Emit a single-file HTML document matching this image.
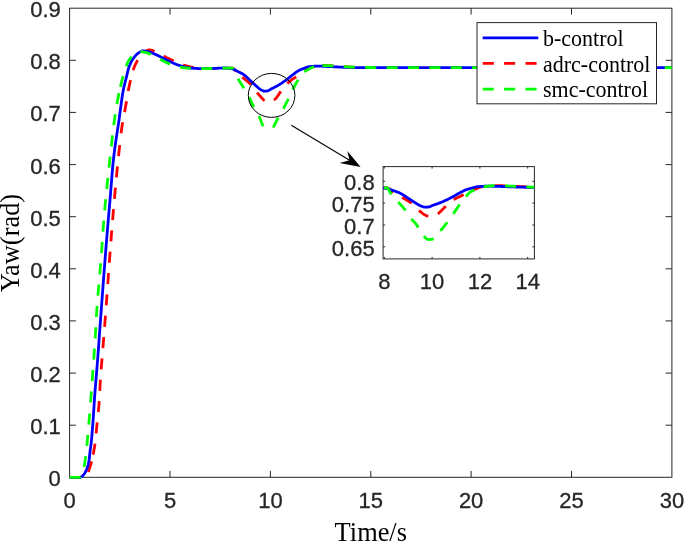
<!DOCTYPE html><html><head><meta charset="utf-8"><style>html,body{margin:0;padding:0;background:#fff;overflow:hidden}svg{display:block}</style></head><body>
<svg style="will-change:transform" width="685" height="543" viewBox="0 0 685 543">
<defs><clipPath id="cm"><rect x="67.6" y="6.2" width="606.3" height="473.1"/></clipPath>
<clipPath id="ci"><rect x="383.1" y="166.6" width="151.3" height="92.3"/></clipPath></defs>
<rect width="685" height="543" fill="#fff"/>
<g stroke="#262626" stroke-width="1" fill="none">
<rect x="69.6" y="8.2" width="602.3" height="469.1"/>
<path d="M170.0,477.3V470.9M170.0,8.2V14.6M270.4,477.3V470.9M270.4,8.2V14.6M370.8,477.3V470.9M370.8,8.2V14.6M471.1,477.3V470.9M471.1,8.2V14.6M571.5,477.3V470.9M571.5,8.2V14.6M69.6,425.2H75.9M671.9,425.2H665.6M69.6,373.1H75.9M671.9,373.1H665.6M69.6,320.9H75.9M671.9,320.9H665.6M69.6,268.8H75.9M671.9,268.8H665.6M69.6,216.7H75.9M671.9,216.7H665.6M69.6,164.6H75.9M671.9,164.6H665.6M69.6,112.4H75.9M671.9,112.4H665.6M69.6,60.3H75.9M671.9,60.3H665.6"/>
</g>
<g clip-path="url(#cm)" fill="none" stroke-width="2.8" stroke-linejoin="round">
<path d="M69.60,477.30 L69.60,477.30 L70.00,477.30 L70.40,477.30 L70.81,477.30 L71.21,477.30 L71.61,477.30 L72.01,477.30 L72.41,477.30 L72.81,477.30 L73.22,477.30 L73.62,477.30 L74.02,477.30 L74.42,477.30 L74.82,477.30 L75.23,477.30 L75.63,477.30 L76.03,477.30 L76.43,477.30 L76.83,477.30 L77.23,477.30 L77.64,477.30 L78.04,477.30 L78.44,477.30 L78.84,477.30 L79.24,477.30 L79.65,477.30 L80.05,477.30 L80.45,477.30 L80.70,477.30M88.28,472.03 L88.48,471.46 L88.89,470.29 L89.29,469.08 L89.69,467.84 L90.09,466.59 L90.49,465.28 L90.90,463.90 L91.30,462.44 L91.56,461.43M93.12,454.61 L93.31,453.67 L93.71,451.57 L94.11,449.33 L94.51,446.94 L94.91,444.23 L94.98,443.67M96.09,433.43 L96.12,433.12 L96.52,429.04 L96.92,425.09 L97.22,422.38M98.32,412.14 L98.53,409.96 L98.93,405.27 L99.21,401.08M99.79,390.80 L100.14,384.43 L100.44,379.71M101.18,369.44 L101.34,367.30 L101.74,362.20 L102.05,358.38M102.90,348.11 L102.95,347.47 L103.35,342.49 L103.75,337.39 L103.78,337.05M104.60,326.78 L104.96,322.21 L105.36,317.02 L105.46,315.71M106.23,305.44 L106.57,300.82 L106.97,295.28 L107.03,294.37M107.77,284.10 L107.77,284.10 L108.17,278.48 L108.56,273.02M109.31,262.75 L109.38,261.78 L109.78,256.32 L110.12,251.68M110.89,241.41 L110.99,240.09 L111.39,234.91 L111.76,230.34M112.61,220.08 L112.99,215.47 L113.40,210.78 L113.55,209.02M114.45,198.76 L114.60,197.07 L115.00,192.62 L115.41,188.23 L115.45,187.70M116.41,177.45 L116.61,175.38 L117.01,171.20 L117.41,167.09 L117.48,166.40M118.53,156.15 L118.62,155.29 L119.02,151.54 L119.42,147.88 L119.73,145.12M121.08,133.23 L121.43,130.39 L121.83,127.45 L122.24,124.80 L122.64,122.33 L122.65,122.25M124.54,112.12 L124.65,111.58 L125.05,109.49 L125.45,107.33 L125.85,105.07 L126.25,102.72 L126.51,101.20M128.23,91.04 L128.26,90.83 L128.66,88.68 L129.07,86.68 L129.47,84.85 L129.87,83.08 L130.27,81.35 L130.55,80.19M133.20,70.24 L133.49,69.33 L133.89,68.14 L134.29,67.05 L134.69,66.05 L135.09,65.14 L135.50,64.25 L135.90,63.40 L136.30,62.58 L136.70,61.79 L137.10,61.04 L137.50,60.31 L137.63,60.09M144.34,52.35 L144.34,52.35 L144.74,52.01 L145.14,51.69 L145.54,51.39 L145.94,51.12 L146.34,50.86 L146.75,50.63 L147.15,50.43 L147.55,50.26 L147.95,50.12 L148.35,50.01 L148.75,49.94 L149.16,49.90 L149.56,49.91 L149.96,49.93 L150.36,49.98 L150.76,50.05 L151.17,50.14 L151.57,50.25 L151.97,50.38 L152.37,50.51 L152.77,50.66 L153.17,50.82 L153.58,50.99 L153.98,51.16 L154.38,51.34 L154.50,51.39M163.71,56.00 L164.02,56.17 L164.43,56.40 L164.83,56.62 L165.23,56.84 L165.63,57.06 L166.03,57.27 L166.43,57.48 L166.84,57.68 L167.24,57.88 L167.64,58.07 L168.04,58.25 L168.44,58.44 L168.84,58.64 L169.25,58.83 L169.65,59.02 L170.05,59.21 L170.45,59.40 L170.85,59.60 L171.26,59.79 L171.66,59.98 L172.06,60.18 L172.46,60.37 L172.86,60.56 L173.26,60.75 L173.64,60.93M183.13,64.93 L183.31,64.99 L183.71,65.12 L184.11,65.25 L184.52,65.38 L184.92,65.50 L185.32,65.61 L185.72,65.72 L186.12,65.83 L186.52,65.93 L186.93,66.03 L187.33,66.13 L187.73,66.22 L188.13,66.32 L188.53,66.42 L188.93,66.52 L189.34,66.62 L189.74,66.72 L190.14,66.81 L190.54,66.91 L190.94,67.00 L191.35,67.10 L191.75,67.19 L192.15,67.28 L192.55,67.37 L192.95,67.45 L193.35,67.54 L193.76,67.62 L193.89,67.64M204.14,68.30 L204.20,68.30 L204.61,68.30 L205.01,68.30 L205.41,68.30 L205.81,68.30 L206.21,68.30 L206.61,68.30 L207.02,68.30 L207.42,68.30 L207.82,68.30 L208.22,68.30 L208.62,68.30 L209.03,68.30 L209.43,68.30 L209.83,68.30 L210.23,68.30 L210.63,68.30 L211.03,68.30 L211.44,68.30 L211.84,68.30 L212.24,68.30 L212.64,68.30 L213.04,68.30 L213.44,68.30 L213.85,68.30 L214.25,68.30 L214.65,68.30 L215.05,68.30 L215.24,68.30M225.54,68.19 L225.90,68.19 L226.30,68.18 L226.70,68.17 L227.11,68.16 L227.51,68.16 L227.91,68.15 L228.31,68.15 L228.71,68.14 L229.12,68.14 L229.52,68.14 L229.92,68.14 L230.32,68.14 L230.72,68.14 L231.12,68.14 L231.53,68.14 L231.93,68.14 L232.33,68.14 L232.73,68.18 L233.13,68.33 L233.53,68.59 L233.94,68.92 L234.34,69.33 L234.74,69.78 L235.14,70.28 L235.54,70.80 L235.55,70.80M242.37,77.28 L242.37,77.28 L242.78,77.61 L243.18,77.94 L243.58,78.26 L243.98,78.60 L244.38,78.93 L244.79,79.27 L245.19,79.61 L245.59,79.95 L245.99,80.28 L246.39,80.61 L246.79,80.93 L247.20,81.26 L247.60,81.58 L248.00,81.91 L248.40,82.23 L248.80,82.56 L249.21,82.89 L249.61,83.23 L250.01,83.58 L250.41,83.93 L250.81,84.30 L250.90,84.38M257.20,92.49 L257.24,92.55 L257.64,93.11 L258.04,93.65 L258.45,94.17 L258.85,94.65 L259.25,95.11 L259.65,95.56 L260.05,96.01 L260.46,96.47 L260.86,96.93 L261.26,97.39 L261.66,97.84 L262.06,98.28 L262.46,98.72 L262.87,99.13 L263.27,99.53 L263.67,99.91 L264.07,100.26 L264.47,100.58 L264.64,100.70M273.95,100.04 L274.12,99.91 L274.52,99.58 L274.92,99.26 L275.32,98.92 L275.72,98.52 L276.13,98.08 L276.53,97.59 L276.93,97.07 L277.33,96.52 L277.73,95.95 L278.13,95.36 L278.54,94.76 L278.94,94.16 L279.34,93.56 L279.74,92.98 L280.14,92.40 L280.55,91.85 L280.87,91.43M287.38,83.46 L287.38,83.46 L287.78,83.04 L288.18,82.65 L288.58,82.28 L288.98,81.92 L289.39,81.58 L289.79,81.25 L290.19,80.93 L290.59,80.62 L290.99,80.32 L291.39,80.03 L291.80,79.74 L292.20,79.46 L292.60,79.19 L293.00,78.92 L293.40,78.65 L293.81,78.38 L294.21,78.11 L294.61,77.84 L295.01,77.56 L295.41,77.29 L295.81,77.01 L296.19,76.74M304.68,70.91 L305.06,70.68 L305.46,70.44 L305.86,70.20 L306.26,69.96 L306.66,69.72 L307.06,69.47 L307.47,69.22 L307.87,68.97 L308.27,68.72 L308.67,68.47 L309.07,68.23 L309.48,68.01 L309.88,67.79 L310.28,67.58 L310.68,67.39 L311.08,67.22 L311.48,67.06 L311.89,66.93 L312.29,66.82 L312.69,66.73 L313.09,66.65 L313.49,66.57 L313.90,66.49 L314.30,66.41 L314.67,66.34M322.38,65.44 L322.73,65.43 L323.14,65.43 L323.54,65.43 L323.94,65.43 L324.34,65.44 L324.74,65.45 L325.15,65.45 L325.55,65.46 L325.95,65.48 L326.35,65.49 L326.75,65.50 L327.15,65.52 L327.56,65.54 L327.96,65.56 L328.36,65.58 L328.76,65.60 L329.16,65.62 L329.57,65.64 L329.97,65.67 L330.37,65.69 L330.77,65.71 L331.17,65.74 L331.57,65.76 L331.98,65.79 L332.38,65.82 L332.78,65.84 L333.18,65.87 L333.46,65.88M343.74,66.56 L344.03,66.59 L344.43,66.62 L344.83,66.65 L345.24,66.68 L345.64,66.71 L346.04,66.74 L346.44,66.77 L346.84,66.80 L347.24,66.83 L347.65,66.86 L348.05,66.89 L348.45,66.92 L348.85,66.94 L349.25,66.97 L349.66,67.00 L350.06,67.02 L350.46,67.05 L350.86,67.07 L351.26,67.10 L351.66,67.12 L352.07,67.14 L352.47,67.16 L352.87,67.18 L353.27,67.20 L353.67,67.22 L354.08,67.24 L354.48,67.25 L354.82,67.26M365.12,67.44 L365.33,67.44 L365.73,67.44 L366.13,67.45 L366.53,67.45 L366.93,67.46 L367.33,67.46 L367.74,67.47 L368.14,67.47 L368.54,67.48 L368.94,67.48 L369.34,67.49 L369.75,67.49 L370.15,67.50 L370.55,67.50 L370.95,67.50 L371.35,67.51 L371.75,67.51 L372.16,67.52 L372.56,67.52 L372.96,67.52 L373.36,67.53 L373.76,67.53 L374.17,67.54 L374.57,67.54 L374.97,67.54 L375.37,67.55 L375.77,67.55 L376.17,67.55 L376.22,67.55M386.52,67.61 L386.62,67.61 L387.02,67.61 L387.42,67.61 L387.83,67.61 L388.23,67.62 L388.63,67.62 L389.03,67.62 L389.43,67.62 L389.84,67.62 L390.24,67.62 L390.64,67.62 L391.04,67.62 L391.44,67.62 L391.84,67.62 L392.25,67.62 L392.65,67.62 L393.05,67.62 L393.45,67.62 L393.85,67.62 L394.26,67.62 L394.66,67.62 L395.06,67.62 L395.46,67.62 L395.86,67.62 L396.26,67.62 L396.67,67.62 L397.07,67.63 L397.47,67.63 L397.62,67.63M407.92,67.63 L407.92,67.63 L408.32,67.63 L408.72,67.64 L409.12,67.64 L409.52,67.64 L409.93,67.64 L410.33,67.64 L410.73,67.64 L411.13,67.64 L411.53,67.64 L411.93,67.64 L412.34,67.64 L412.74,67.64 L413.14,67.64 L413.54,67.64 L413.94,67.64 L414.35,67.64 L414.75,67.64 L415.15,67.64 L415.55,67.64 L415.95,67.64 L416.35,67.64 L416.76,67.64 L417.16,67.64 L417.56,67.64 L417.96,67.64 L418.36,67.64 L418.77,67.64 L419.02,67.64M429.32,67.65 L429.61,67.65 L430.02,67.65 L430.42,67.65 L430.82,67.65 L431.22,67.65 L431.62,67.65 L432.02,67.65 L432.43,67.65 L432.83,67.65 L433.23,67.65 L433.63,67.65 L434.03,67.66 L434.44,67.66 L434.84,67.66 L435.24,67.66 L435.64,67.66 L436.04,67.66 L436.44,67.66 L436.85,67.66 L437.25,67.66 L437.65,67.66 L438.05,67.66 L438.45,67.66 L438.86,67.66 L439.26,67.66 L439.66,67.66 L440.06,67.66 L440.42,67.66M450.72,67.67 L450.91,67.67 L451.31,67.67 L451.71,67.67 L452.11,67.67 L452.52,67.67 L452.92,67.67 L453.32,67.67 L453.72,67.67 L454.12,67.67 L454.53,67.67 L454.93,67.67 L455.33,67.67 L455.73,67.67 L456.13,67.67 L456.53,67.67 L456.94,67.67 L457.34,67.67 L457.74,67.67 L458.14,67.67 L458.54,67.67 L458.95,67.67 L459.35,67.67 L459.75,67.67 L460.15,67.67 L460.55,67.67 L460.95,67.67 L461.36,67.67 L461.76,67.67 L461.82,67.67M472.12,67.68 L472.20,67.68 L472.61,67.68 L473.01,67.68 L473.41,67.68 L473.81,67.68 L474.21,67.68 L474.62,67.68 L475.02,67.68 L475.42,67.68 L475.82,67.68 L476.22,67.68 L476.62,67.68 L477.03,67.68 L477.43,67.68 L477.83,67.68 L478.23,67.68 L478.63,67.68 L479.04,67.68 L479.44,67.68 L479.84,67.68 L480.24,67.68 L480.64,67.68 L481.04,67.68 L481.45,67.68 L481.85,67.68 L482.25,67.68 L482.65,67.68 L483.05,67.68 L483.22,67.68M493.52,67.69 L493.90,67.69 L494.30,67.69 L494.71,67.69 L495.11,67.69 L495.51,67.69 L495.91,67.69 L496.31,67.69 L496.71,67.69 L497.12,67.69 L497.52,67.69 L497.92,67.69 L498.32,67.69 L498.72,67.69 L499.13,67.69 L499.53,67.69 L499.93,67.69 L500.33,67.69 L500.73,67.69 L501.13,67.69 L501.54,67.69 L501.94,67.69 L502.34,67.69 L502.74,67.69 L503.14,67.69 L503.55,67.69 L503.95,67.69 L504.35,67.69 L504.62,67.69M514.92,67.70 L515.20,67.70 L515.60,67.70 L516.00,67.70 L516.40,67.70 L516.80,67.70 L517.21,67.70 L517.61,67.70 L518.01,67.70 L518.41,67.70 L518.81,67.70 L519.22,67.70 L519.62,67.70 L520.02,67.70 L520.42,67.70 L520.82,67.70 L521.22,67.70 L521.63,67.70 L522.03,67.70 L522.43,67.70 L522.83,67.70 L523.23,67.70 L523.64,67.70 L524.04,67.70 L524.44,67.70 L524.84,67.70 L525.24,67.70 L525.64,67.70 L526.02,67.70M536.32,67.71 L536.49,67.71 L536.89,67.71 L537.30,67.71 L537.70,67.71 L538.10,67.71 L538.50,67.71 L538.90,67.71 L539.31,67.71 L539.71,67.71 L540.11,67.71 L540.51,67.71 L540.91,67.71 L541.31,67.71 L541.72,67.71 L542.12,67.71 L542.52,67.71 L542.92,67.71 L543.32,67.71 L543.73,67.71 L544.13,67.71 L544.53,67.71 L544.93,67.71 L545.33,67.71 L545.73,67.71 L546.14,67.71 L546.54,67.71 L546.94,67.71 L547.34,67.71 L547.42,67.71M557.72,67.71 L557.79,67.71 L558.19,67.71 L558.59,67.71 L558.99,67.71 L559.40,67.71 L559.80,67.71 L560.20,67.71 L560.60,67.71 L561.00,67.71 L561.40,67.71 L561.81,67.71 L562.21,67.71 L562.61,67.71 L563.01,67.71 L563.41,67.71 L563.82,67.71 L564.22,67.71 L564.62,67.71 L565.02,67.71 L565.42,67.71 L565.82,67.71 L566.23,67.71 L566.63,67.71 L567.03,67.71 L567.43,67.71 L567.83,67.71 L568.24,67.71 L568.64,67.71 L568.82,67.71M579.12,67.72 L579.49,67.72 L579.89,67.72 L580.29,67.72 L580.69,67.72 L581.09,67.72 L581.49,67.72 L581.90,67.72 L582.30,67.72 L582.70,67.72 L583.10,67.72 L583.50,67.72 L583.91,67.72 L584.31,67.72 L584.71,67.72 L585.11,67.72 L585.51,67.72 L585.91,67.72 L586.32,67.72 L586.72,67.72 L587.12,67.72 L587.52,67.72 L587.92,67.72 L588.33,67.72 L588.73,67.72 L589.13,67.72 L589.53,67.72 L589.93,67.72 L590.22,67.72M600.52,67.72 L600.78,67.72 L601.18,67.72 L601.58,67.72 L601.99,67.72 L602.39,67.72 L602.79,67.72 L603.19,67.72 L603.59,67.72 L604.00,67.72 L604.40,67.72 L604.80,67.72 L605.20,67.72 L605.60,67.72 L606.00,67.72 L606.41,67.72 L606.81,67.72 L607.21,67.72 L607.61,67.72 L608.01,67.72 L608.42,67.72 L608.82,67.72 L609.22,67.72 L609.62,67.72 L610.02,67.72 L610.42,67.72 L610.83,67.72 L611.23,67.72 L611.62,67.72M621.92,67.72 L622.08,67.72 L622.48,67.72 L622.88,67.72 L623.28,67.72 L623.68,67.72 L624.09,67.72 L624.49,67.72 L624.89,67.72 L625.29,67.72 L625.69,67.72 L626.09,67.72 L626.50,67.72 L626.90,67.72 L627.30,67.72 L627.70,67.72 L628.10,67.72 L628.51,67.72 L628.91,67.72 L629.31,67.72 L629.71,67.72 L630.11,67.72 L630.51,67.72 L630.92,67.72 L631.32,67.72 L631.72,67.72 L632.12,67.72 L632.52,67.72 L632.93,67.72 L633.02,67.72M643.32,67.72 L643.37,67.72 L643.77,67.72 L644.18,67.72 L644.58,67.72 L644.98,67.72 L645.38,67.72 L645.78,67.72 L646.18,67.72 L646.59,67.72 L646.99,67.72 L647.39,67.72 L647.79,67.72 L648.19,67.72 L648.60,67.72 L649.00,67.72 L649.40,67.72 L649.80,67.72 L650.20,67.72 L650.60,67.72 L651.01,67.72 L651.41,67.72 L651.81,67.72 L652.21,67.72 L652.61,67.72 L653.02,67.72 L653.42,67.72 L653.82,67.72 L654.22,67.72 L654.42,67.72M664.72,67.72 L665.07,67.72 L665.47,67.72 L665.87,67.72 L666.27,67.72 L666.68,67.72 L667.08,67.72 L667.48,67.72 L667.88,67.72 L668.28,67.72 L668.69,67.72 L669.09,67.72 L669.49,67.72 L669.89,67.72 L670.29,67.72 L670.69,67.72 L671.10,67.72 L671.50,67.72 L671.90,67.72" stroke="#ff0000"/>
<path d="M69.60,477.30 L70.00,477.30 L70.40,477.30 L70.81,477.30 L71.21,477.30 L71.61,477.30 L72.01,477.30 L72.41,477.30 L72.81,477.30 L73.22,477.30 L73.62,477.30 L74.02,477.30 L74.42,477.30 L74.82,477.30 L75.23,477.30 L75.63,477.30 L76.03,477.30 L76.43,477.30 L76.83,477.30 L77.23,477.30 L77.64,477.30 L78.04,477.30 L78.44,477.30 L78.84,477.30 L79.24,477.30 L79.65,477.30 L80.05,477.28 L80.45,477.17 L80.85,477.00 L81.25,476.79 L81.65,476.57 L82.06,476.29 L82.46,475.93 L82.86,475.52 L83.26,475.07 L83.66,474.61 L84.06,474.12 L84.47,473.57 L84.87,472.96 L85.27,472.27 L85.67,471.51 L86.07,470.65 L86.48,469.70 L86.88,468.65 L87.28,467.49 L87.68,466.20 L88.08,464.75 L88.48,463.01 L88.89,460.93 L89.29,458.48 L89.69,454.96 L90.09,451.07 L90.49,448.13 L90.90,445.34 L91.30,441.88 L91.70,437.67 L92.10,433.01 L92.50,428.15 L92.90,423.02 L93.31,417.51 L93.71,411.43 L94.11,404.60 L94.51,398.40 L94.91,392.89 L95.32,387.73 L95.72,382.81 L96.12,378.04 L96.52,373.30 L96.92,368.50 L97.32,363.55 L97.73,358.34 L98.13,352.93 L98.53,347.40 L98.93,341.79 L99.33,336.15 L99.74,330.52 L100.14,324.95 L100.54,319.48 L100.94,314.06 L101.34,308.64 L101.74,303.24 L102.15,297.84 L102.55,292.46 L102.95,287.09 L103.35,281.76 L103.75,276.45 L104.15,271.17 L104.56,265.93 L104.96,260.73 L105.36,255.57 L105.76,250.47 L106.16,245.42 L106.57,240.42 L106.97,235.51 L107.37,230.68 L107.77,225.93 L108.17,221.23 L108.57,216.57 L108.98,211.92 L109.38,207.26 L109.78,202.58 L110.18,197.83 L110.58,192.91 L110.99,187.86 L111.39,182.78 L111.79,177.75 L112.19,172.87 L112.59,168.23 L112.99,163.92 L113.40,160.03 L113.80,156.49 L114.20,153.15 L114.60,149.97 L115.00,146.94 L115.41,144.04 L115.81,141.25 L116.21,138.53 L116.61,135.87 L117.01,133.25 L117.41,130.63 L117.82,128.01 L118.22,125.35 L118.62,122.64 L119.02,119.85 L119.42,116.95 L119.83,113.96 L120.23,110.93 L120.63,107.88 L121.03,104.85 L121.43,101.88 L121.83,99.02 L122.24,96.29 L122.64,93.73 L123.04,91.39 L123.44,89.29 L123.84,87.38 L124.24,85.62 L124.65,83.97 L125.05,82.40 L125.45,80.87 L125.85,79.34 L126.25,77.78 L126.66,76.16 L127.06,74.43 L127.46,72.67 L127.86,70.95 L128.26,69.37 L128.66,68.00 L129.07,66.86 L129.47,65.81 L129.87,64.83 L130.27,63.91 L130.67,63.04 L131.08,62.22 L131.48,61.46 L131.88,60.73 L132.28,60.04 L132.68,59.39 L133.08,58.77 L133.49,58.18 L133.89,57.61 L134.29,57.06 L134.69,56.55 L135.09,56.06 L135.50,55.60 L135.90,55.17 L136.30,54.78 L136.70,54.41 L137.10,54.06 L137.50,53.73 L137.91,53.42 L138.31,53.11 L138.71,52.83 L139.11,52.56 L139.51,52.30 L139.92,52.07 L140.32,51.84 L140.72,51.64 L141.12,51.44 L141.52,51.23 L141.92,51.05 L142.33,50.93 L142.73,50.90 L143.13,50.91 L143.53,50.93 L143.93,50.96 L144.34,51.00 L144.74,51.05 L145.14,51.10 L145.54,51.16 L145.94,51.22 L146.34,51.29 L146.75,51.37 L147.15,51.44 L147.55,51.51 L147.95,51.59 L148.35,51.67 L148.75,51.77 L149.16,51.87 L149.56,51.99 L149.96,52.12 L150.36,52.26 L150.76,52.41 L151.17,52.56 L151.57,52.72 L151.97,52.89 L152.37,53.06 L152.77,53.23 L153.17,53.41 L153.58,53.59 L153.98,53.76 L154.38,53.94 L154.78,54.11 L155.18,54.28 L155.59,54.45 L155.99,54.63 L156.39,54.81 L156.79,55.00 L157.19,55.19 L157.59,55.38 L158.00,55.58 L158.40,55.78 L158.80,55.98 L159.20,56.18 L159.60,56.39 L160.01,56.60 L160.41,56.80 L160.81,57.01 L161.21,57.22 L161.61,57.43 L162.01,57.65 L162.42,57.86 L162.82,58.07 L163.22,58.27 L163.62,58.48 L164.02,58.69 L164.43,58.89 L164.83,59.09 L165.23,59.29 L165.63,59.49 L166.03,59.69 L166.43,59.88 L166.84,60.06 L167.24,60.25 L167.64,60.44 L168.04,60.63 L168.44,60.82 L168.84,61.01 L169.25,61.21 L169.65,61.40 L170.05,61.59 L170.45,61.78 L170.85,61.97 L171.26,62.16 L171.66,62.35 L172.06,62.54 L172.46,62.72 L172.86,62.91 L173.26,63.09 L173.67,63.27 L174.07,63.44 L174.47,63.62 L174.87,63.79 L175.27,63.95 L175.68,64.12 L176.08,64.27 L176.48,64.43 L176.88,64.58 L177.28,64.72 L177.68,64.86 L178.09,65.00 L178.49,65.13 L178.89,65.26 L179.29,65.38 L179.69,65.51 L180.10,65.64 L180.50,65.77 L180.90,65.90 L181.30,66.03 L181.70,66.15 L182.10,66.27 L182.51,66.40 L182.91,66.52 L183.31,66.64 L183.71,66.75 L184.11,66.86 L184.52,66.97 L184.92,67.08 L185.32,67.18 L185.72,67.28 L186.12,67.37 L186.52,67.46 L186.93,67.55 L187.33,67.62 L187.73,67.70 L188.13,67.77 L188.53,67.83 L188.93,67.88 L189.34,67.93 L189.74,67.98 L190.14,68.01 L190.54,68.05 L190.94,68.08 L191.35,68.11 L191.75,68.14 L192.15,68.18 L192.55,68.21 L192.95,68.24 L193.35,68.27 L193.76,68.29 L194.16,68.32 L194.56,68.35 L194.96,68.37 L195.36,68.40 L195.77,68.42 L196.17,68.44 L196.57,68.46 L196.97,68.48 L197.37,68.50 L197.77,68.52 L198.18,68.53 L198.58,68.55 L198.98,68.56 L199.38,68.57 L199.78,68.58 L200.19,68.59 L200.59,68.59 L200.99,68.60 L201.39,68.60 L201.79,68.60 L202.19,68.60 L202.60,68.60 L203.00,68.60 L203.40,68.59 L203.80,68.59 L204.20,68.59 L204.61,68.58 L205.01,68.58 L205.41,68.57 L205.81,68.56 L206.21,68.56 L206.61,68.55 L207.02,68.54 L207.42,68.54 L207.82,68.53 L208.22,68.52 L208.62,68.51 L209.03,68.50 L209.43,68.49 L209.83,68.48 L210.23,68.47 L210.63,68.47 L211.03,68.46 L211.44,68.45 L211.84,68.44 L212.24,68.43 L212.64,68.42 L213.04,68.41 L213.44,68.40 L213.85,68.39 L214.25,68.38 L214.65,68.36 L215.05,68.35 L215.45,68.34 L215.86,68.32 L216.26,68.30 L216.66,68.28 L217.06,68.27 L217.46,68.25 L217.86,68.23 L218.27,68.21 L218.67,68.19 L219.07,68.17 L219.47,68.15 L219.87,68.14 L220.28,68.12 L220.68,68.10 L221.08,68.09 L221.48,68.07 L221.88,68.06 L222.28,68.04 L222.69,68.03 L223.09,68.02 L223.49,68.01 L223.89,68.01 L224.29,68.00 L224.70,68.00 L225.10,68.00 L225.50,68.00 L225.90,68.01 L226.30,68.02 L226.70,68.04 L227.11,68.06 L227.51,68.08 L227.91,68.10 L228.31,68.13 L228.71,68.16 L229.12,68.19 L229.52,68.22 L229.92,68.28 L230.32,68.34 L230.72,68.43 L231.12,68.52 L231.53,68.62 L231.93,68.73 L232.33,68.84 L232.73,68.96 L233.13,69.10 L233.53,69.26 L233.94,69.44 L234.34,69.63 L234.74,69.83 L235.14,70.04 L235.54,70.26 L235.95,70.47 L236.35,70.70 L236.75,70.91 L237.15,71.13 L237.55,71.34 L237.95,71.54 L238.36,71.74 L238.76,71.93 L239.16,72.13 L239.56,72.33 L239.96,72.52 L240.37,72.73 L240.77,72.93 L241.17,73.14 L241.57,73.35 L241.97,73.57 L242.37,73.80 L242.78,74.04 L243.18,74.29 L243.58,74.55 L243.98,74.82 L244.38,75.11 L244.79,75.42 L245.19,75.75 L245.59,76.10 L245.99,76.45 L246.39,76.82 L246.79,77.20 L247.20,77.58 L247.60,77.97 L248.00,78.36 L248.40,78.75 L248.80,79.13 L249.21,79.51 L249.61,79.89 L250.01,80.26 L250.41,80.63 L250.81,81.00 L251.21,81.38 L251.62,81.76 L252.02,82.14 L252.42,82.52 L252.82,82.90 L253.22,83.28 L253.62,83.66 L254.03,84.03 L254.43,84.40 L254.83,84.77 L255.23,85.13 L255.63,85.48 L256.04,85.83 L256.44,86.18 L256.84,86.53 L257.24,86.89 L257.64,87.24 L258.04,87.59 L258.45,87.94 L258.85,88.28 L259.25,88.60 L259.65,88.91 L260.05,89.20 L260.46,89.47 L260.86,89.72 L261.26,89.94 L261.66,90.17 L262.06,90.40 L262.46,90.62 L262.87,90.81 L263.27,90.97 L263.67,91.08 L264.07,91.13 L264.47,91.12 L264.88,91.12 L265.28,91.10 L265.68,91.08 L266.08,91.06 L266.48,91.03 L266.88,91.00 L267.29,90.97 L267.69,90.89 L268.09,90.75 L268.49,90.57 L268.89,90.35 L269.30,90.10 L269.70,89.83 L270.10,89.57 L270.50,89.31 L270.90,89.08 L271.30,88.87 L271.71,88.67 L272.11,88.47 L272.51,88.28 L272.91,88.08 L273.31,87.89 L273.72,87.69 L274.12,87.50 L274.52,87.31 L274.92,87.11 L275.32,86.91 L275.72,86.70 L276.13,86.49 L276.53,86.28 L276.93,86.06 L277.33,85.83 L277.73,85.60 L278.13,85.36 L278.54,85.12 L278.94,84.88 L279.34,84.63 L279.74,84.38 L280.14,84.12 L280.55,83.86 L280.95,83.60 L281.35,83.33 L281.75,83.06 L282.15,82.79 L282.55,82.52 L282.96,82.24 L283.36,81.96 L283.76,81.68 L284.16,81.40 L284.56,81.12 L284.97,80.84 L285.37,80.55 L285.77,80.26 L286.17,79.97 L286.57,79.67 L286.97,79.37 L287.38,79.06 L287.78,78.75 L288.18,78.43 L288.58,78.11 L288.98,77.79 L289.39,77.46 L289.79,77.14 L290.19,76.81 L290.59,76.48 L290.99,76.16 L291.39,75.83 L291.80,75.51 L292.20,75.19 L292.60,74.88 L293.00,74.57 L293.40,74.26 L293.81,73.96 L294.21,73.67 L294.61,73.37 L295.01,73.07 L295.41,72.77 L295.81,72.47 L296.22,72.18 L296.62,71.89 L297.02,71.61 L297.42,71.34 L297.82,71.08 L298.22,70.84 L298.63,70.62 L299.03,70.41 L299.43,70.20 L299.83,70.01 L300.23,69.83 L300.64,69.65 L301.04,69.48 L301.44,69.31 L301.84,69.15 L302.24,68.99 L302.64,68.83 L303.05,68.68 L303.45,68.52 L303.85,68.37 L304.25,68.21 L304.65,68.05 L305.06,67.89 L305.46,67.72 L305.86,67.57 L306.26,67.42 L306.66,67.27 L307.06,67.14 L307.47,67.02 L307.87,66.92 L308.27,66.83 L308.67,66.76 L309.07,66.70 L309.48,66.64 L309.88,66.58 L310.28,66.53 L310.68,66.48 L311.08,66.43 L311.48,66.39 L311.89,66.36 L312.29,66.32 L312.69,66.30 L313.09,66.28 L313.49,66.26 L313.90,66.25 L314.30,66.24 L314.70,66.23 L315.10,66.22 L315.50,66.21 L315.90,66.20 L316.31,66.19 L316.71,66.18 L317.11,66.18 L317.51,66.17 L317.91,66.17 L318.31,66.16 L318.72,66.16 L319.12,66.16 L319.52,66.16 L319.92,66.16 L320.32,66.17 L320.73,66.18 L321.13,66.19 L321.53,66.20 L321.93,66.22 L322.33,66.23 L322.73,66.25 L323.14,66.27 L323.54,66.28 L323.94,66.30 L324.34,66.32 L324.74,66.34 L325.15,66.36 L325.55,66.39 L325.95,66.41 L326.35,66.42 L326.75,66.44 L327.15,66.46 L327.56,66.48 L327.96,66.50 L328.36,66.51 L328.76,66.53 L329.16,66.55 L329.57,66.57 L329.97,66.59 L330.37,66.61 L330.77,66.63 L331.17,66.65 L331.57,66.68 L331.98,66.70 L332.38,66.72 L332.78,66.74 L333.18,66.76 L333.58,66.78 L333.99,66.81 L334.39,66.83 L334.79,66.85 L335.19,66.87 L335.59,66.89 L335.99,66.92 L336.40,66.94 L336.80,66.96 L337.20,66.98 L337.60,67.00 L338.00,67.02 L338.41,67.04 L338.81,67.06 L339.21,67.08 L339.61,67.09 L340.01,67.11 L340.41,67.13 L340.82,67.14 L341.22,67.16 L341.62,67.17 L342.02,67.19 L342.42,67.20 L342.82,67.21 L343.23,67.23 L343.63,67.24 L344.03,67.25 L344.43,67.26 L344.83,67.28 L345.24,67.29 L345.64,67.30 L346.04,67.31 L346.44,67.33 L346.84,67.34 L347.24,67.35 L347.65,67.36 L348.05,67.37 L348.45,67.39 L348.85,67.40 L349.25,67.41 L349.66,67.42 L350.06,67.43 L350.46,67.44 L350.86,67.45 L351.26,67.46 L351.66,67.47 L352.07,67.48 L352.47,67.49 L352.87,67.50 L353.27,67.51 L353.67,67.52 L354.08,67.53 L354.48,67.53 L354.88,67.54 L355.28,67.55 L355.68,67.56 L356.08,67.56 L356.49,67.57 L356.89,67.58 L357.29,67.58 L357.69,67.59 L358.09,67.59 L358.50,67.60 L358.90,67.60 L359.30,67.61 L359.70,67.61 L360.10,67.62 L360.50,67.62 L360.91,67.62 L361.31,67.62 L361.71,67.63 L362.11,67.63 L362.51,67.63 L362.91,67.63 L363.32,67.64 L363.72,67.64 L364.12,67.64 L364.52,67.64 L364.92,67.65 L365.33,67.65 L365.73,67.65 L366.13,67.65 L366.53,67.65 L366.93,67.66 L367.33,67.66 L367.74,67.66 L368.14,67.66 L368.54,67.66 L368.94,67.67 L369.34,67.67 L369.75,67.67 L370.15,67.67 L370.55,67.67 L370.95,67.68 L371.35,67.68 L371.75,67.68 L372.16,67.68 L372.56,67.68 L372.96,67.68 L373.36,67.69 L373.76,67.69 L374.17,67.69 L374.57,67.69 L374.97,67.69 L375.37,67.69 L375.77,67.70 L376.17,67.70 L376.58,67.70 L376.98,67.70 L377.38,67.70 L377.78,67.70 L378.18,67.70 L378.59,67.70 L378.99,67.71 L379.39,67.71 L379.79,67.71 L380.19,67.71 L380.59,67.71 L381.00,67.71 L381.40,67.71 L381.80,67.71 L382.20,67.71 L382.60,67.72 L383.00,67.72 L383.41,67.72 L383.81,67.72 L384.21,67.72 L384.61,67.72 L385.01,67.72 L385.42,67.72 L385.82,67.72 L386.22,67.72 L386.62,67.72 L387.02,67.72 L387.42,67.72 L387.83,67.72 L388.23,67.72 L388.63,67.72 L389.03,67.72 L389.43,67.72 L389.84,67.72 L390.24,67.72 L390.64,67.72 L391.04,67.72 L391.44,67.72 L391.84,67.72 L392.25,67.72 L392.65,67.72 L393.05,67.72 L393.45,67.72 L393.85,67.72 L394.26,67.72 L394.66,67.72 L395.06,67.72 L395.46,67.72 L395.86,67.72 L396.26,67.72 L396.67,67.72 L397.07,67.72 L397.47,67.72 L397.87,67.72 L398.27,67.72 L398.68,67.72 L399.08,67.72 L399.48,67.72 L399.88,67.72 L400.28,67.72 L400.68,67.72 L401.09,67.72 L401.49,67.72 L401.89,67.72 L402.29,67.72 L402.69,67.72 L403.09,67.72 L403.50,67.72 L403.90,67.72 L404.30,67.72 L404.70,67.72 L405.10,67.72 L405.51,67.72 L405.91,67.72 L406.31,67.72 L406.71,67.72 L407.11,67.72 L407.51,67.72 L407.92,67.72 L408.32,67.72 L408.72,67.72 L409.12,67.72 L409.52,67.72 L409.93,67.72 L410.33,67.72 L410.73,67.72 L411.13,67.72 L411.53,67.72 L411.93,67.72 L412.34,67.72 L412.74,67.72 L413.14,67.72 L413.54,67.72 L413.94,67.72 L414.35,67.72 L414.75,67.72 L415.15,67.72 L415.55,67.72 L415.95,67.72 L416.35,67.72 L416.76,67.72 L417.16,67.72 L417.56,67.72 L417.96,67.72 L418.36,67.72 L418.77,67.72 L419.17,67.72 L419.57,67.72 L419.97,67.72 L420.37,67.72 L420.77,67.72 L421.18,67.72 L421.58,67.72 L421.98,67.72 L422.38,67.72 L422.78,67.72 L423.19,67.72 L423.59,67.72 L423.99,67.72 L424.39,67.72 L424.79,67.72 L425.19,67.72 L425.60,67.72 L426.00,67.72 L426.40,67.72 L426.80,67.72 L427.20,67.72 L427.60,67.72 L428.01,67.72 L428.41,67.72 L428.81,67.72 L429.21,67.72 L429.61,67.72 L430.02,67.72 L430.42,67.72 L430.82,67.72 L431.22,67.72 L431.62,67.72 L432.02,67.72 L432.43,67.72 L432.83,67.72 L433.23,67.72 L433.63,67.72 L434.03,67.72 L434.44,67.72 L434.84,67.72 L435.24,67.72 L435.64,67.72 L436.04,67.72 L436.44,67.72 L436.85,67.72 L437.25,67.72 L437.65,67.72 L438.05,67.72 L438.45,67.72 L438.86,67.72 L439.26,67.72 L439.66,67.72 L440.06,67.72 L440.46,67.72 L440.86,67.72 L441.27,67.72 L441.67,67.72 L442.07,67.72 L442.47,67.72 L442.87,67.72 L443.28,67.72 L443.68,67.72 L444.08,67.72 L444.48,67.72 L444.88,67.72 L445.28,67.72 L445.69,67.72 L446.09,67.72 L446.49,67.72 L446.89,67.72 L447.29,67.72 L447.69,67.72 L448.10,67.72 L448.50,67.72 L448.90,67.72 L449.30,67.72 L449.70,67.72 L450.11,67.72 L450.51,67.72 L450.91,67.72 L451.31,67.72 L451.71,67.72 L452.11,67.72 L452.52,67.72 L452.92,67.72 L453.32,67.72 L453.72,67.72 L454.12,67.72 L454.53,67.72 L454.93,67.72 L455.33,67.72 L455.73,67.72 L456.13,67.72 L456.53,67.72 L456.94,67.72 L457.34,67.72 L457.74,67.72 L458.14,67.72 L458.54,67.72 L458.95,67.72 L459.35,67.72 L459.75,67.72 L460.15,67.72 L460.55,67.72 L460.95,67.72 L461.36,67.72 L461.76,67.72 L462.16,67.72 L462.56,67.72 L462.96,67.72 L463.37,67.72 L463.77,67.72 L464.17,67.72 L464.57,67.72 L464.97,67.72 L465.37,67.72 L465.78,67.72 L466.18,67.72 L466.58,67.72 L466.98,67.72 L467.38,67.72 L467.78,67.72 L468.19,67.72 L468.59,67.72 L468.99,67.72 L469.39,67.72 L469.79,67.72 L470.20,67.72 L470.60,67.72 L471.00,67.72 L471.40,67.72 L471.80,67.72 L472.20,67.72 L472.61,67.72 L473.01,67.72 L473.41,67.72 L473.81,67.72 L474.21,67.72 L474.62,67.72 L475.02,67.72 L475.42,67.72 L475.82,67.72 L476.22,67.72 L476.62,67.72 L477.03,67.72 L477.43,67.72 L477.83,67.72 L478.23,67.72 L478.63,67.72 L479.04,67.72 L479.44,67.72 L479.84,67.72 L480.24,67.72 L480.64,67.72 L481.04,67.72 L481.45,67.72 L481.85,67.72 L482.25,67.72 L482.65,67.72 L483.05,67.72 L483.46,67.72 L483.86,67.72 L484.26,67.72 L484.66,67.72 L485.06,67.72 L485.46,67.72 L485.87,67.72 L486.27,67.72 L486.67,67.72 L487.07,67.72 L487.47,67.72 L487.88,67.72 L488.28,67.72 L488.68,67.72 L489.08,67.72 L489.48,67.72 L489.88,67.72 L490.29,67.72 L490.69,67.72 L491.09,67.72 L491.49,67.72 L491.89,67.72 L492.29,67.72 L492.70,67.72 L493.10,67.72 L493.50,67.72 L493.90,67.72 L494.30,67.72 L494.71,67.72 L495.11,67.72 L495.51,67.72 L495.91,67.72 L496.31,67.72 L496.71,67.72 L497.12,67.72 L497.52,67.72 L497.92,67.72 L498.32,67.72 L498.72,67.72 L499.13,67.72 L499.53,67.72 L499.93,67.72 L500.33,67.72 L500.73,67.72 L501.13,67.72 L501.54,67.72 L501.94,67.72 L502.34,67.72 L502.74,67.72 L503.14,67.72 L503.55,67.72 L503.95,67.72 L504.35,67.72 L504.75,67.72 L505.15,67.72 L505.55,67.72 L505.96,67.72 L506.36,67.72 L506.76,67.72 L507.16,67.72 L507.56,67.72 L507.97,67.72 L508.37,67.72 L508.77,67.72 L509.17,67.72 L509.57,67.72 L509.97,67.72 L510.38,67.72 L510.78,67.72 L511.18,67.72 L511.58,67.72 L511.98,67.72 L512.38,67.72 L512.79,67.72 L513.19,67.72 L513.59,67.72 L513.99,67.72 L514.39,67.72 L514.80,67.72 L515.20,67.72 L515.60,67.72 L516.00,67.72 L516.40,67.72 L516.80,67.72 L517.21,67.72 L517.61,67.72 L518.01,67.72 L518.41,67.72 L518.81,67.72 L519.22,67.72 L519.62,67.72 L520.02,67.72 L520.42,67.72 L520.82,67.72 L521.22,67.72 L521.63,67.72 L522.03,67.72 L522.43,67.72 L522.83,67.72 L523.23,67.72 L523.64,67.72 L524.04,67.72 L524.44,67.72 L524.84,67.72 L525.24,67.72 L525.64,67.72 L526.05,67.72 L526.45,67.72 L526.85,67.72 L527.25,67.72 L527.65,67.72 L528.06,67.72 L528.46,67.72 L528.86,67.72 L529.26,67.72 L529.66,67.72 L530.06,67.72 L530.47,67.72 L530.87,67.72 L531.27,67.72 L531.67,67.72 L532.07,67.72 L532.47,67.72 L532.88,67.72 L533.28,67.72 L533.68,67.72 L534.08,67.72 L534.48,67.72 L534.89,67.72 L535.29,67.72 L535.69,67.72 L536.09,67.72 L536.49,67.72 L536.89,67.72 L537.30,67.72 L537.70,67.72 L538.10,67.72 L538.50,67.72 L538.90,67.72 L539.31,67.72 L539.71,67.72 L540.11,67.72 L540.51,67.72 L540.91,67.72 L541.31,67.72 L541.72,67.72 L542.12,67.72 L542.52,67.72 L542.92,67.72 L543.32,67.72 L543.73,67.72 L544.13,67.72 L544.53,67.72 L544.93,67.72 L545.33,67.72 L545.73,67.72 L546.14,67.72 L546.54,67.72 L546.94,67.72 L547.34,67.72 L547.74,67.72 L548.15,67.72 L548.55,67.72 L548.95,67.72 L549.35,67.72 L549.75,67.72 L550.15,67.72 L550.56,67.72 L550.96,67.72 L551.36,67.72 L551.76,67.72 L552.16,67.72 L552.57,67.72 L552.97,67.72 L553.37,67.72 L553.77,67.72 L554.17,67.72 L554.57,67.72 L554.98,67.72 L555.38,67.72 L555.78,67.72 L556.18,67.72 L556.58,67.72 L556.98,67.72 L557.39,67.72 L557.79,67.72 L558.19,67.72 L558.59,67.72 L558.99,67.72 L559.40,67.72 L559.80,67.72 L560.20,67.72 L560.60,67.72 L561.00,67.72 L561.40,67.72 L561.81,67.72 L562.21,67.72 L562.61,67.72 L563.01,67.72 L563.41,67.72 L563.82,67.72 L564.22,67.72 L564.62,67.72 L565.02,67.72 L565.42,67.72 L565.82,67.72 L566.23,67.72 L566.63,67.72 L567.03,67.72 L567.43,67.72 L567.83,67.72 L568.24,67.72 L568.64,67.72 L569.04,67.72 L569.44,67.72 L569.84,67.72 L570.24,67.72 L570.65,67.72 L571.05,67.72 L571.45,67.72 L571.85,67.72 L572.25,67.72 L572.66,67.72 L573.06,67.72 L573.46,67.72 L573.86,67.72 L574.26,67.72 L574.66,67.72 L575.07,67.72 L575.47,67.72 L575.87,67.72 L576.27,67.72 L576.67,67.72 L577.07,67.72 L577.48,67.72 L577.88,67.72 L578.28,67.72 L578.68,67.72 L579.08,67.72 L579.49,67.72 L579.89,67.72 L580.29,67.72 L580.69,67.72 L581.09,67.72 L581.49,67.72 L581.90,67.72 L582.30,67.72 L582.70,67.72 L583.10,67.72 L583.50,67.72 L583.91,67.72 L584.31,67.72 L584.71,67.72 L585.11,67.72 L585.51,67.72 L585.91,67.72 L586.32,67.72 L586.72,67.72 L587.12,67.72 L587.52,67.72 L587.92,67.72 L588.33,67.72 L588.73,67.72 L589.13,67.72 L589.53,67.72 L589.93,67.72 L590.33,67.72 L590.74,67.72 L591.14,67.72 L591.54,67.72 L591.94,67.72 L592.34,67.72 L592.75,67.72 L593.15,67.72 L593.55,67.72 L593.95,67.72 L594.35,67.72 L594.75,67.72 L595.16,67.72 L595.56,67.72 L595.96,67.72 L596.36,67.72 L596.76,67.72 L597.16,67.72 L597.57,67.72 L597.97,67.72 L598.37,67.72 L598.77,67.72 L599.17,67.72 L599.58,67.72 L599.98,67.72 L600.38,67.72 L600.78,67.72 L601.18,67.72 L601.58,67.72 L601.99,67.72 L602.39,67.72 L602.79,67.72 L603.19,67.72 L603.59,67.72 L604.00,67.72 L604.40,67.72 L604.80,67.72 L605.20,67.72 L605.60,67.72 L606.00,67.72 L606.41,67.72 L606.81,67.72 L607.21,67.72 L607.61,67.72 L608.01,67.72 L608.42,67.72 L608.82,67.72 L609.22,67.72 L609.62,67.72 L610.02,67.72 L610.42,67.72 L610.83,67.72 L611.23,67.72 L611.63,67.72 L612.03,67.72 L612.43,67.72 L612.84,67.72 L613.24,67.72 L613.64,67.72 L614.04,67.72 L614.44,67.72 L614.84,67.72 L615.25,67.72 L615.65,67.72 L616.05,67.72 L616.45,67.72 L616.85,67.72 L617.26,67.72 L617.66,67.72 L618.06,67.72 L618.46,67.72 L618.86,67.72 L619.26,67.72 L619.67,67.72 L620.07,67.72 L620.47,67.72 L620.87,67.72 L621.27,67.72 L621.67,67.72 L622.08,67.72 L622.48,67.72 L622.88,67.72 L623.28,67.72 L623.68,67.72 L624.09,67.72 L624.49,67.72 L624.89,67.72 L625.29,67.72 L625.69,67.72 L626.09,67.72 L626.50,67.72 L626.90,67.72 L627.30,67.72 L627.70,67.72 L628.10,67.72 L628.51,67.72 L628.91,67.72 L629.31,67.72 L629.71,67.72 L630.11,67.72 L630.51,67.72 L630.92,67.72 L631.32,67.72 L631.72,67.72 L632.12,67.72 L632.52,67.72 L632.93,67.72 L633.33,67.72 L633.73,67.72 L634.13,67.72 L634.53,67.72 L634.93,67.72 L635.34,67.72 L635.74,67.72 L636.14,67.72 L636.54,67.72 L636.94,67.72 L637.35,67.72 L637.75,67.72 L638.15,67.72 L638.55,67.72 L638.95,67.72 L639.35,67.72 L639.76,67.72 L640.16,67.72 L640.56,67.72 L640.96,67.72 L641.36,67.72 L641.76,67.72 L642.17,67.72 L642.57,67.72 L642.97,67.72 L643.37,67.72 L643.77,67.72 L644.18,67.72 L644.58,67.72 L644.98,67.72 L645.38,67.72 L645.78,67.72 L646.18,67.72 L646.59,67.72 L646.99,67.72 L647.39,67.72 L647.79,67.72 L648.19,67.72 L648.60,67.72 L649.00,67.72 L649.40,67.72 L649.80,67.72 L650.20,67.72 L650.60,67.72 L651.01,67.72 L651.41,67.72 L651.81,67.72 L652.21,67.72 L652.61,67.72 L653.02,67.72 L653.42,67.72 L653.82,67.72 L654.22,67.72 L654.62,67.72 L655.02,67.72 L655.43,67.72 L655.83,67.72 L656.23,67.72 L656.63,67.72 L657.03,67.72 L657.44,67.72 L657.84,67.72 L658.24,67.72 L658.64,67.72 L659.04,67.72 L659.44,67.72 L659.85,67.72 L660.25,67.72 L660.65,67.72 L661.05,67.72 L661.45,67.72 L661.85,67.72 L662.26,67.72 L662.66,67.72 L663.06,67.72 L663.46,67.72 L663.86,67.72 L664.27,67.72 L664.67,67.72 L665.07,67.72 L665.47,67.72 L665.87,67.72 L666.27,67.72 L666.68,67.72 L667.08,67.72 L667.48,67.72 L667.88,67.72 L668.28,67.72 L668.69,67.72 L669.09,67.72 L669.49,67.72 L669.89,67.72 L670.29,67.72 L670.69,67.72 L671.10,67.72 L671.50,67.72 L671.90,67.72" stroke="#0000ff"/>
<path d="M69.60,477.30 L69.60,477.30 L70.00,477.30 L70.40,477.30 L70.81,477.30 L71.21,477.30 L71.61,477.30 L72.01,477.30 L72.41,477.30 L72.81,477.30 L73.22,477.30 L73.62,477.30 L74.02,477.30 L74.42,477.30 L74.82,477.30 L75.23,477.30 L75.63,477.30 L76.03,477.30 L76.43,477.30 L76.83,477.30 L77.23,477.30 L77.64,477.30 L78.04,477.30 L78.44,477.30 L78.84,477.30 L79.24,477.28 L79.65,477.15 L80.05,476.92 L80.45,476.60 L80.49,476.56M83.96,467.06 L84.06,466.54 L84.47,464.45 L84.87,462.24 L85.27,459.53 L85.67,456.33 L85.70,456.10M86.79,445.86 L86.88,444.98 L87.28,441.00 L87.68,436.92 L87.88,434.81M88.78,424.55 L88.89,423.25 L89.29,418.43 L89.68,413.49M90.53,402.37 L90.90,397.59 L91.30,392.30 L91.37,391.30M92.15,381.03 L92.50,376.39 L92.90,371.00 L92.98,369.96M93.73,359.69 L94.11,354.22 L94.49,348.62M95.17,338.34 L95.32,336.05 L95.72,329.24 L95.82,327.26M96.39,316.97 L96.52,314.74 L96.92,308.75 L97.13,305.90M97.91,295.63 L98.13,292.91 L98.53,288.12 L98.84,284.57M99.74,274.31 L99.74,274.31 L100.14,269.70 L100.54,264.98 L100.68,263.25M101.49,252.98 L101.74,249.58 L102.15,243.61 L102.25,241.91M102.91,231.63 L102.95,231.04 L103.35,225.80 L103.75,220.85 L103.78,220.56M104.67,210.30 L104.96,207.09 L105.36,202.80 L105.70,199.25M106.73,189.00 L106.97,186.68 L107.37,182.82 L107.77,178.99 L107.88,177.96M108.96,167.71 L108.98,167.52 L109.38,163.64 L109.78,159.79 L110.11,156.67M111.23,146.44 L111.39,145.06 L111.79,141.55 L112.19,138.07 L112.50,135.41M113.76,125.19 L113.80,124.85 L114.20,121.87 L114.60,118.98 L115.00,116.16 L115.29,114.19M116.89,104.02 L117.01,103.31 L117.41,101.06 L117.82,98.92 L118.22,96.86 L118.62,94.87 L118.99,93.12M120.39,86.84 L120.63,85.84 L121.03,84.18 L121.43,82.56 L121.83,80.98 L122.24,79.43 L122.64,77.93 L123.04,76.46 L123.14,76.09M126.27,66.28 L126.66,65.20 L127.06,64.13 L127.46,63.13 L127.86,62.21 L128.26,61.40 L128.66,60.69 L129.07,60.05 L129.47,59.44 L129.87,58.86 L130.27,58.30 L130.67,57.77 L131.08,57.27 L131.48,56.80 L131.61,56.65M140.32,51.60 L140.32,51.60 L140.72,51.62 L141.12,51.65 L141.52,51.69 L141.92,51.75 L142.33,51.81 L142.73,51.88 L143.13,51.95 L143.53,52.03 L143.93,52.12 L144.34,52.21 L144.74,52.30 L145.14,52.40 L145.54,52.49 L145.94,52.59 L146.34,52.68 L146.75,52.79 L147.15,52.91 L147.55,53.03 L147.95,53.17 L148.35,53.31 L148.75,53.46 L149.16,53.62 L149.56,53.78 L149.96,53.95 L150.36,54.12 L150.76,54.30 L151.00,54.40M160.15,59.12 L160.41,59.27 L160.81,59.51 L161.21,59.74 L161.61,59.98 L162.01,60.21 L162.42,60.44 L162.82,60.66 L163.22,60.88 L163.62,61.10 L164.02,61.31 L164.43,61.52 L164.83,61.72 L165.23,61.91 L165.63,62.11 L166.03,62.30 L166.43,62.49 L166.84,62.69 L167.24,62.88 L167.64,63.07 L168.04,63.26 L168.44,63.46 L168.84,63.64 L169.25,63.83 L169.65,64.02 L170.02,64.18M179.86,67.11 L180.10,67.16 L180.50,67.24 L180.90,67.31 L181.30,67.38 L181.70,67.45 L182.10,67.51 L182.51,67.57 L182.91,67.63 L183.31,67.68 L183.71,67.73 L184.11,67.78 L184.52,67.82 L184.92,67.86 L185.32,67.89 L185.72,67.93 L186.12,67.96 L186.52,67.99 L186.93,68.02 L187.33,68.05 L187.73,68.08 L188.13,68.11 L188.53,68.13 L188.93,68.16 L189.34,68.19 L189.74,68.22 L190.14,68.24 L190.54,68.27 L190.89,68.29M201.18,68.60 L201.39,68.60 L201.79,68.60 L202.19,68.59 L202.60,68.59 L203.00,68.59 L203.40,68.58 L203.80,68.58 L204.20,68.58 L204.61,68.57 L205.01,68.57 L205.41,68.56 L205.81,68.56 L206.21,68.55 L206.61,68.54 L207.02,68.54 L207.42,68.53 L207.82,68.53 L208.22,68.52 L208.62,68.51 L209.03,68.50 L209.43,68.50 L209.83,68.49 L210.23,68.48 L210.63,68.48 L211.03,68.47 L211.44,68.46 L211.84,68.45 L212.24,68.45 L212.28,68.45M222.58,68.24 L222.69,68.24 L223.09,68.23 L223.49,68.23 L223.89,68.22 L224.29,68.21 L224.70,68.21 L225.10,68.20 L225.50,68.19 L225.90,68.18 L226.30,68.18 L226.70,68.17 L227.11,68.16 L227.51,68.16 L227.91,68.15 L228.31,68.15 L228.71,68.14 L229.12,68.14 L229.52,68.14 L229.92,68.14 L230.32,68.14 L230.72,68.14 L231.12,68.14 L231.53,68.14 L231.93,68.14 L232.33,68.14 L232.73,68.22 L233.13,68.66 L233.30,68.96M237.95,78.79 L237.95,78.79 L238.36,79.42 L238.76,80.05 L239.16,80.68 L239.56,81.30 L239.96,81.92 L240.37,82.53 L240.77,83.16 L241.17,83.79 L241.57,84.43 L241.97,85.08 L242.37,85.73 L242.78,86.37 L243.18,87.01 L243.58,87.64 L243.91,88.16M249.04,97.08 L249.21,97.42 L249.61,98.26 L250.01,99.12 L250.41,99.99 L250.81,100.85 L251.21,101.71 L251.62,102.55 L252.02,103.37 L252.42,104.16 L252.82,104.91 L253.22,105.63 L253.62,106.30 L254.03,106.95 L254.05,106.97M259.02,115.96 L259.25,116.53 L259.65,117.57 L260.05,118.61 L260.46,119.66 L260.86,120.69 L261.26,121.70 L261.66,122.66 L262.06,123.56 L262.46,124.40 L262.87,125.15 L263.27,125.80 L263.49,126.10M273.04,127.49 L273.31,127.08 L273.72,126.42 L274.12,125.70 L274.52,124.95 L274.92,124.17 L275.32,123.36 L275.72,122.55 L276.13,121.75 L276.53,120.96 L276.93,120.20 L277.33,119.48 L277.73,118.80 L278.13,118.12 L278.35,117.75M283.36,108.75 L283.36,108.75 L283.76,107.99 L284.16,107.22 L284.56,106.44 L284.97,105.66 L285.37,104.87 L285.77,104.07 L286.17,103.28 L286.57,102.47 L286.97,101.66 L287.38,100.85 L287.78,100.04 L288.18,99.22 L288.37,98.84M292.76,89.53 L293.00,89.04 L293.40,88.26 L293.81,87.49 L294.21,86.74 L294.61,86.00 L295.01,85.26 L295.41,84.54 L295.81,83.83 L296.22,83.12 L296.62,82.42 L297.02,81.73 L297.42,81.05 L297.82,80.37 L298.15,79.82M304.30,71.75 L304.65,71.54 L305.06,71.30 L305.46,71.07 L305.86,70.83 L306.26,70.59 L306.66,70.35 L307.06,70.11 L307.47,69.87 L307.87,69.63 L308.27,69.39 L308.67,69.16 L309.07,68.93 L309.48,68.70 L309.88,68.49 L310.28,68.28 L310.68,68.07 L311.08,67.88 L311.48,67.69 L311.89,67.52 L312.29,67.36 L312.69,67.21 L313.09,67.07 L313.49,66.95 L313.90,66.84 L314.17,66.78M322.37,65.54 L322.73,65.53 L323.14,65.54 L323.54,65.54 L323.94,65.54 L324.34,65.55 L324.74,65.55 L325.15,65.56 L325.55,65.57 L325.95,65.58 L326.35,65.59 L326.75,65.60 L327.15,65.62 L327.56,65.63 L327.96,65.65 L328.36,65.66 L328.76,65.68 L329.16,65.70 L329.57,65.72 L329.97,65.73 L330.37,65.75 L330.77,65.77 L331.17,65.79 L331.57,65.81 L331.98,65.83 L332.38,65.85 L332.78,65.88 L333.18,65.90 L333.46,65.91M343.74,66.54 L344.03,66.57 L344.43,66.60 L344.83,66.63 L345.24,66.66 L345.64,66.69 L346.04,66.72 L346.44,66.75 L346.84,66.78 L347.24,66.81 L347.65,66.84 L348.05,66.87 L348.45,66.90 L348.85,66.93 L349.25,66.96 L349.66,66.99 L350.06,67.02 L350.46,67.04 L350.86,67.07 L351.26,67.09 L351.66,67.11 L352.07,67.14 L352.47,67.16 L352.87,67.18 L353.27,67.20 L353.67,67.22 L354.08,67.23 L354.48,67.25 L354.82,67.26M365.12,67.44 L365.33,67.44 L365.73,67.44 L366.13,67.45 L366.53,67.45 L366.93,67.46 L367.33,67.46 L367.74,67.47 L368.14,67.47 L368.54,67.48 L368.94,67.48 L369.34,67.49 L369.75,67.49 L370.15,67.50 L370.55,67.50 L370.95,67.50 L371.35,67.51 L371.75,67.51 L372.16,67.52 L372.56,67.52 L372.96,67.52 L373.36,67.53 L373.76,67.53 L374.17,67.54 L374.57,67.54 L374.97,67.54 L375.37,67.55 L375.77,67.55 L376.17,67.55 L376.22,67.55M386.52,67.61 L386.62,67.61 L387.02,67.61 L387.42,67.61 L387.83,67.61 L388.23,67.62 L388.63,67.62 L389.03,67.62 L389.43,67.62 L389.84,67.62 L390.24,67.62 L390.64,67.62 L391.04,67.62 L391.44,67.62 L391.84,67.62 L392.25,67.62 L392.65,67.62 L393.05,67.62 L393.45,67.62 L393.85,67.62 L394.26,67.62 L394.66,67.62 L395.06,67.62 L395.46,67.62 L395.86,67.62 L396.26,67.62 L396.67,67.62 L397.07,67.63 L397.47,67.63 L397.62,67.63M407.92,67.63 L407.92,67.63 L408.32,67.63 L408.72,67.64 L409.12,67.64 L409.52,67.64 L409.93,67.64 L410.33,67.64 L410.73,67.64 L411.13,67.64 L411.53,67.64 L411.93,67.64 L412.34,67.64 L412.74,67.64 L413.14,67.64 L413.54,67.64 L413.94,67.64 L414.35,67.64 L414.75,67.64 L415.15,67.64 L415.55,67.64 L415.95,67.64 L416.35,67.64 L416.76,67.64 L417.16,67.64 L417.56,67.64 L417.96,67.64 L418.36,67.64 L418.77,67.64 L419.02,67.64M429.32,67.65 L429.61,67.65 L430.02,67.65 L430.42,67.65 L430.82,67.65 L431.22,67.65 L431.62,67.65 L432.02,67.65 L432.43,67.65 L432.83,67.65 L433.23,67.65 L433.63,67.65 L434.03,67.66 L434.44,67.66 L434.84,67.66 L435.24,67.66 L435.64,67.66 L436.04,67.66 L436.44,67.66 L436.85,67.66 L437.25,67.66 L437.65,67.66 L438.05,67.66 L438.45,67.66 L438.86,67.66 L439.26,67.66 L439.66,67.66 L440.06,67.66 L440.42,67.66M450.72,67.67 L450.91,67.67 L451.31,67.67 L451.71,67.67 L452.11,67.67 L452.52,67.67 L452.92,67.67 L453.32,67.67 L453.72,67.67 L454.12,67.67 L454.53,67.67 L454.93,67.67 L455.33,67.67 L455.73,67.67 L456.13,67.67 L456.53,67.67 L456.94,67.67 L457.34,67.67 L457.74,67.67 L458.14,67.67 L458.54,67.67 L458.95,67.67 L459.35,67.67 L459.75,67.67 L460.15,67.67 L460.55,67.67 L460.95,67.67 L461.36,67.67 L461.76,67.67 L461.82,67.67M472.12,67.68 L472.20,67.68 L472.61,67.68 L473.01,67.68 L473.41,67.68 L473.81,67.68 L474.21,67.68 L474.62,67.68 L475.02,67.68 L475.42,67.68 L475.82,67.68 L476.22,67.68 L476.62,67.68 L477.03,67.68 L477.43,67.68 L477.83,67.68 L478.23,67.68 L478.63,67.68 L479.04,67.68 L479.44,67.68 L479.84,67.68 L480.24,67.68 L480.64,67.68 L481.04,67.68 L481.45,67.68 L481.85,67.68 L482.25,67.68 L482.65,67.68 L483.05,67.68 L483.22,67.68M493.52,67.69 L493.90,67.69 L494.30,67.69 L494.71,67.69 L495.11,67.69 L495.51,67.69 L495.91,67.69 L496.31,67.69 L496.71,67.69 L497.12,67.69 L497.52,67.69 L497.92,67.69 L498.32,67.69 L498.72,67.69 L499.13,67.69 L499.53,67.69 L499.93,67.69 L500.33,67.69 L500.73,67.69 L501.13,67.69 L501.54,67.69 L501.94,67.69 L502.34,67.69 L502.74,67.69 L503.14,67.69 L503.55,67.69 L503.95,67.69 L504.35,67.69 L504.62,67.69M514.92,67.70 L515.20,67.70 L515.60,67.70 L516.00,67.70 L516.40,67.70 L516.80,67.70 L517.21,67.70 L517.61,67.70 L518.01,67.70 L518.41,67.70 L518.81,67.70 L519.22,67.70 L519.62,67.70 L520.02,67.70 L520.42,67.70 L520.82,67.70 L521.22,67.70 L521.63,67.70 L522.03,67.70 L522.43,67.70 L522.83,67.70 L523.23,67.70 L523.64,67.70 L524.04,67.70 L524.44,67.70 L524.84,67.70 L525.24,67.70 L525.64,67.70 L526.02,67.70M536.32,67.71 L536.49,67.71 L536.89,67.71 L537.30,67.71 L537.70,67.71 L538.10,67.71 L538.50,67.71 L538.90,67.71 L539.31,67.71 L539.71,67.71 L540.11,67.71 L540.51,67.71 L540.91,67.71 L541.31,67.71 L541.72,67.71 L542.12,67.71 L542.52,67.71 L542.92,67.71 L543.32,67.71 L543.73,67.71 L544.13,67.71 L544.53,67.71 L544.93,67.71 L545.33,67.71 L545.73,67.71 L546.14,67.71 L546.54,67.71 L546.94,67.71 L547.34,67.71 L547.42,67.71M557.72,67.71 L557.79,67.71 L558.19,67.71 L558.59,67.71 L558.99,67.71 L559.40,67.71 L559.80,67.71 L560.20,67.71 L560.60,67.71 L561.00,67.71 L561.40,67.71 L561.81,67.71 L562.21,67.71 L562.61,67.71 L563.01,67.71 L563.41,67.71 L563.82,67.71 L564.22,67.71 L564.62,67.71 L565.02,67.71 L565.42,67.71 L565.82,67.71 L566.23,67.71 L566.63,67.71 L567.03,67.71 L567.43,67.71 L567.83,67.71 L568.24,67.71 L568.64,67.71 L568.82,67.71M579.12,67.72 L579.49,67.72 L579.89,67.72 L580.29,67.72 L580.69,67.72 L581.09,67.72 L581.49,67.72 L581.90,67.72 L582.30,67.72 L582.70,67.72 L583.10,67.72 L583.50,67.72 L583.91,67.72 L584.31,67.72 L584.71,67.72 L585.11,67.72 L585.51,67.72 L585.91,67.72 L586.32,67.72 L586.72,67.72 L587.12,67.72 L587.52,67.72 L587.92,67.72 L588.33,67.72 L588.73,67.72 L589.13,67.72 L589.53,67.72 L589.93,67.72 L590.22,67.72M600.52,67.72 L600.78,67.72 L601.18,67.72 L601.58,67.72 L601.99,67.72 L602.39,67.72 L602.79,67.72 L603.19,67.72 L603.59,67.72 L604.00,67.72 L604.40,67.72 L604.80,67.72 L605.20,67.72 L605.60,67.72 L606.00,67.72 L606.41,67.72 L606.81,67.72 L607.21,67.72 L607.61,67.72 L608.01,67.72 L608.42,67.72 L608.82,67.72 L609.22,67.72 L609.62,67.72 L610.02,67.72 L610.42,67.72 L610.83,67.72 L611.23,67.72 L611.62,67.72M621.92,67.72 L622.08,67.72 L622.48,67.72 L622.88,67.72 L623.28,67.72 L623.68,67.72 L624.09,67.72 L624.49,67.72 L624.89,67.72 L625.29,67.72 L625.69,67.72 L626.09,67.72 L626.50,67.72 L626.90,67.72 L627.30,67.72 L627.70,67.72 L628.10,67.72 L628.51,67.72 L628.91,67.72 L629.31,67.72 L629.71,67.72 L630.11,67.72 L630.51,67.72 L630.92,67.72 L631.32,67.72 L631.72,67.72 L632.12,67.72 L632.52,67.72 L632.93,67.72 L633.02,67.72M643.32,67.72 L643.37,67.72 L643.77,67.72 L644.18,67.72 L644.58,67.72 L644.98,67.72 L645.38,67.72 L645.78,67.72 L646.18,67.72 L646.59,67.72 L646.99,67.72 L647.39,67.72 L647.79,67.72 L648.19,67.72 L648.60,67.72 L649.00,67.72 L649.40,67.72 L649.80,67.72 L650.20,67.72 L650.60,67.72 L651.01,67.72 L651.41,67.72 L651.81,67.72 L652.21,67.72 L652.61,67.72 L653.02,67.72 L653.42,67.72 L653.82,67.72 L654.22,67.72 L654.42,67.72M664.72,67.72 L665.07,67.72 L665.47,67.72 L665.87,67.72 L666.27,67.72 L666.68,67.72 L667.08,67.72 L667.48,67.72 L667.88,67.72 L668.28,67.72 L668.69,67.72 L669.09,67.72 L669.49,67.72 L669.89,67.72 L670.29,67.72 L670.69,67.72 L671.10,67.72 L671.50,67.72 L671.90,67.72" stroke="#00ff00"/>
</g>
<g font-family="Liberation Sans, sans-serif" font-size="22" fill="#262626" stroke="#262626" stroke-width="0.3">
<text transform="translate(69.6,508.3) scale(1,1.035)" text-anchor="middle">0</text>
<text transform="translate(170.0,508.3) scale(1,1.035)" text-anchor="middle">5</text>
<text transform="translate(270.4,508.3) scale(1,1.035)" text-anchor="middle">10</text>
<text transform="translate(370.8,508.3) scale(1,1.035)" text-anchor="middle">15</text>
<text transform="translate(471.1,508.3) scale(1,1.035)" text-anchor="middle">20</text>
<text transform="translate(571.5,508.3) scale(1,1.035)" text-anchor="middle">25</text>
<text transform="translate(671.9,508.3) scale(1,1.035)" text-anchor="middle">30</text>
<text transform="translate(60.8,486.2) scale(1,1.035)" text-anchor="end">0</text>
<text transform="translate(60.8,434.1) scale(1,1.035)" text-anchor="end">0.1</text>
<text transform="translate(60.8,382.0) scale(1,1.035)" text-anchor="end">0.2</text>
<text transform="translate(60.8,329.8) scale(1,1.035)" text-anchor="end">0.3</text>
<text transform="translate(60.8,277.7) scale(1,1.035)" text-anchor="end">0.4</text>
<text transform="translate(60.8,225.6) scale(1,1.035)" text-anchor="end">0.5</text>
<text transform="translate(60.8,173.5) scale(1,1.035)" text-anchor="end">0.6</text>
<text transform="translate(60.8,121.3) scale(1,1.035)" text-anchor="end">0.7</text>
<text transform="translate(60.8,69.2) scale(1,1.035)" text-anchor="end">0.8</text>
<text transform="translate(60.8,17.1) scale(1,1.035)" text-anchor="end">0.9</text>
</g>
<g font-family="Liberation Serif, serif" font-size="26.4" fill="#000">
<text x="370.8" y="541.4" text-anchor="middle">Time/s</text>
<text transform="translate(19.3,243.1) rotate(-90)" text-anchor="middle">Yaw(rad)</text>
</g>
<ellipse cx="271.6" cy="95.4" rx="23.3" ry="22.0" fill="none" stroke="#000" stroke-width="1"/>
<line x1="291.3" y1="125.2" x2="350" y2="160.5" stroke="#000" stroke-width="1.1"/>
<path d="M360.6,167.0 L347.3,150.9 L349.5,160.3 L339.6,163.0 Z" fill="#000"/>
<rect x="383.1" y="166.6" width="151.3" height="92.3" fill="#fff"/>
<g stroke="#262626" stroke-width="1" fill="none">
<rect x="383.1" y="166.6" width="151.3" height="92.3"/>
<path d="M384.3,258.9V256.9M384.3,166.6V168.6M432.1,258.9V256.9M432.1,166.6V168.6M479.9,258.9V256.9M479.9,166.6V168.6M527.7,258.9V256.9M527.7,166.6V168.6M383.1,246.8H385.1M534.4,246.8H532.4M383.1,225.0H385.1M534.4,225.0H532.4M383.1,203.1H385.1M534.4,203.1H532.4M383.1,181.3H385.1M534.4,181.3H532.4"/>
</g>
<g clip-path="url(#ci)" fill="none" stroke-width="2.8" stroke-linejoin="round">
<path d="M383.63,187.85 L383.95,187.85 L384.43,187.85 L384.91,187.85 L385.38,187.85 L385.86,187.85 L386.34,187.85 L386.82,187.85 L387.30,187.89 L387.78,188.01 L388.25,188.22 L388.73,188.51 L389.21,188.84 L389.69,189.23 L390.17,189.64 L390.65,190.08 L391.12,190.52 L391.60,190.95 L392.08,191.37 L392.56,191.75 L393.04,192.09 L393.25,192.23M402.13,197.46 L402.13,197.46 L402.60,197.74 L403.08,198.02 L403.56,198.30 L404.04,198.57 L404.52,198.84 L405.00,199.11 L405.47,199.38 L405.95,199.66 L406.43,199.93 L406.91,200.21 L407.39,200.49 L407.87,200.78 L408.34,201.08 L408.82,201.39 L409.30,201.70 L409.78,202.03 L410.26,202.37 L410.74,202.72 L411.21,203.09 L411.52,203.35M418.92,210.49 L419.34,210.82 L419.82,211.20 L420.30,211.59 L420.78,211.97 L421.26,212.35 L421.74,212.73 L422.21,213.11 L422.69,213.47 L423.17,213.82 L423.65,214.15 L424.13,214.46 L424.61,214.76 L425.08,215.03 L425.56,215.27 L426.04,215.49 L426.52,215.67 L427.00,215.81 L427.48,215.93 L427.95,216.03 L428.33,216.11M437.74,213.79 L438.00,213.64 L438.48,213.30 L438.96,212.93 L439.43,212.53 L439.91,212.09 L440.39,211.63 L440.87,211.15 L441.35,210.66 L441.83,210.16 L442.30,209.65 L442.78,209.15 L443.26,208.66 L443.74,208.18 L444.22,207.72 L444.70,207.28 L445.17,206.86 L445.65,206.43 L445.85,206.25M453.78,199.70 L453.78,199.70 L454.26,199.40 L454.74,199.11 L455.22,198.84 L455.70,198.57 L456.18,198.31 L456.65,198.06 L457.13,197.81 L457.61,197.57 L458.09,197.34 L458.57,197.11 L459.05,196.88 L459.52,196.65 L460.00,196.43 L460.48,196.20 L460.96,195.97 L461.44,195.75 L461.92,195.51 L462.39,195.28 L462.87,195.04 L463.35,194.80 L463.66,194.65M472.94,190.18 L473.39,189.98 L473.87,189.78 L474.35,189.58 L474.83,189.38 L475.31,189.17 L475.79,188.96 L476.26,188.75 L476.74,188.54 L477.22,188.33 L477.70,188.13 L478.18,187.93 L478.66,187.74 L479.13,187.55 L479.61,187.38 L480.09,187.22 L480.57,187.08 L481.05,186.95 L481.53,186.84 L482.00,186.75 L482.48,186.67 L482.96,186.60 L483.38,186.54M494.58,185.58 L494.92,185.58 L495.40,185.58 L495.88,185.58 L496.35,185.59 L496.83,185.59 L497.31,185.60 L497.79,185.61 L498.27,185.62 L498.75,185.63 L499.22,185.64 L499.70,185.66 L500.18,185.67 L500.66,185.69 L501.14,185.70 L501.62,185.72 L502.09,185.74 L502.57,185.76 L503.05,185.78 L503.53,185.80 L504.01,185.82 L504.49,185.84 L504.96,185.86 L505.44,185.88 L505.68,185.89M515.97,186.34 L515.97,186.34 L516.44,186.37 L516.92,186.39 L517.40,186.42 L517.88,186.44 L518.36,186.47 L518.84,186.50 L519.31,186.52 L519.79,186.55 L520.27,186.57 L520.75,186.60 L521.23,186.63 L521.71,186.65 L522.18,186.68 L522.66,186.70 L523.14,186.73 L523.62,186.75 L524.10,186.78 L524.57,186.80 L525.05,186.83 L525.53,186.85 L526.01,186.87 L526.49,186.89 L526.97,186.92 L527.05,186.92M537.35,187.18 L537.49,187.18 L537.97,187.19 L538.45,187.19 L538.92,187.20 L539.40,187.20 L539.88,187.21 L540.36,187.21 L540.84,187.22 L541.32,187.22 L541.79,187.23 L542.27,187.23 L542.75,187.24 L543.23,187.24 L543.71,187.25 L544.19,187.25 L544.66,187.26 L545.14,187.26 L545.62,187.27 L546.10,187.27 L546.58,187.27 L547.06,187.28 L547.53,187.28 L548.01,187.29 L548.45,187.29" stroke="#ff0000"/>
<path d="M379.64,187.75 L380.12,187.76 L380.60,187.78 L381.08,187.80 L381.56,187.82 L382.04,187.84 L382.51,187.86 L382.99,187.89 L383.47,187.92 L383.95,187.96 L384.43,188.02 L384.91,188.09 L385.38,188.17 L385.86,188.25 L386.34,188.34 L386.82,188.44 L387.30,188.54 L387.78,188.65 L388.25,188.79 L388.73,188.94 L389.21,189.10 L389.69,189.26 L390.17,189.44 L390.65,189.62 L391.12,189.81 L391.60,189.99 L392.08,190.17 L392.56,190.35 L393.04,190.53 L393.52,190.70 L393.99,190.86 L394.47,191.03 L394.95,191.19 L395.43,191.36 L395.91,191.52 L396.39,191.69 L396.86,191.86 L397.34,192.04 L397.82,192.22 L398.30,192.40 L398.78,192.59 L399.26,192.79 L399.73,193.00 L400.21,193.22 L400.69,193.45 L401.17,193.69 L401.65,193.95 L402.13,194.23 L402.60,194.52 L403.08,194.82 L403.56,195.12 L404.04,195.44 L404.52,195.76 L405.00,196.08 L405.47,196.41 L405.95,196.74 L406.43,197.06 L406.91,197.38 L407.39,197.69 L407.87,198.00 L408.34,198.31 L408.82,198.62 L409.30,198.94 L409.78,199.26 L410.26,199.58 L410.74,199.90 L411.21,200.21 L411.69,200.53 L412.17,200.85 L412.65,201.16 L413.13,201.47 L413.61,201.78 L414.08,202.08 L414.56,202.38 L415.04,202.67 L415.52,202.96 L416.00,203.26 L416.47,203.56 L416.95,203.85 L417.43,204.15 L417.91,204.44 L418.39,204.72 L418.87,204.99 L419.34,205.25 L419.82,205.50 L420.30,205.72 L420.78,205.93 L421.26,206.11 L421.74,206.31 L422.21,206.50 L422.69,206.68 L423.17,206.84 L423.65,206.98 L424.13,207.07 L424.61,207.11 L425.08,207.11 L425.56,207.10 L426.04,207.09 L426.52,207.07 L427.00,207.05 L427.48,207.03 L427.95,207.00 L428.43,206.98 L428.91,206.91 L429.39,206.80 L429.87,206.64 L430.35,206.45 L430.82,206.25 L431.30,206.03 L431.78,205.80 L432.26,205.59 L432.74,205.39 L433.22,205.22 L433.69,205.05 L434.17,204.88 L434.65,204.72 L435.13,204.56 L435.61,204.40 L436.09,204.23 L436.56,204.07 L437.04,203.91 L437.52,203.74 L438.00,203.57 L438.48,203.40 L438.96,203.23 L439.43,203.05 L439.91,202.86 L440.39,202.67 L440.87,202.48 L441.35,202.28 L441.83,202.08 L442.30,201.87 L442.78,201.66 L443.26,201.45 L443.74,201.24 L444.22,201.02 L444.70,200.80 L445.17,200.58 L445.65,200.35 L446.13,200.13 L446.61,199.90 L447.09,199.67 L447.57,199.43 L448.04,199.20 L448.52,198.96 L449.00,198.72 L449.48,198.49 L449.96,198.25 L450.44,198.01 L450.91,197.76 L451.39,197.51 L451.87,197.26 L452.35,197.00 L452.83,196.74 L453.31,196.47 L453.78,196.20 L454.26,195.93 L454.74,195.66 L455.22,195.39 L455.70,195.11 L456.18,194.84 L456.65,194.57 L457.13,194.30 L457.61,194.03 L458.09,193.76 L458.57,193.50 L459.05,193.24 L459.52,192.98 L460.00,192.73 L460.48,192.48 L460.96,192.23 L461.44,191.98 L461.92,191.73 L462.39,191.48 L462.87,191.24 L463.35,190.99 L463.83,190.76 L464.31,190.53 L464.79,190.32 L465.26,190.11 L465.74,189.92 L466.22,189.75 L466.70,189.58 L467.18,189.42 L467.66,189.26 L468.13,189.11 L468.61,188.97 L469.09,188.83 L469.57,188.69 L470.05,188.56 L470.52,188.43 L471.00,188.30 L471.48,188.17 L471.96,188.04 L472.44,187.91 L472.92,187.77 L473.39,187.64 L473.87,187.50 L474.35,187.37 L474.83,187.24 L475.31,187.12 L475.79,187.01 L476.26,186.91 L476.74,186.82 L477.22,186.75 L477.70,186.69 L478.18,186.64 L478.66,186.59 L479.13,186.54 L479.61,186.50 L480.09,186.46 L480.57,186.42 L481.05,186.39 L481.53,186.36 L482.00,186.33 L482.48,186.31 L482.96,186.29 L483.44,186.28 L483.92,186.27 L484.40,186.26 L484.87,186.25 L485.35,186.24 L485.83,186.23 L486.31,186.22 L486.79,186.22 L487.27,186.21 L487.74,186.20 L488.22,186.20 L488.70,186.20 L489.18,186.19 L489.66,186.19 L490.14,186.19 L490.61,186.19 L491.09,186.19 L491.57,186.20 L492.05,186.21 L492.53,186.22 L493.01,186.23 L493.48,186.24 L493.96,186.25 L494.44,186.26 L494.92,186.28 L495.40,186.30 L495.88,186.31 L496.35,186.33 L496.83,186.35 L497.31,186.36 L497.79,186.38 L498.27,186.40 L498.75,186.41 L499.22,186.43 L499.70,186.44 L500.18,186.46 L500.66,186.47 L501.14,186.49 L501.62,186.50 L502.09,186.52 L502.57,186.54 L503.05,186.55 L503.53,186.57 L504.01,186.59 L504.49,186.60 L504.96,186.62 L505.44,186.64 L505.92,186.66 L506.40,186.68 L506.88,186.70 L507.36,186.71 L507.83,186.73 L508.31,186.75 L508.79,186.77 L509.27,186.79 L509.75,186.81 L510.23,186.82 L510.70,186.84 L511.18,186.86 L511.66,186.88 L512.14,186.89 L512.62,186.91 L513.10,186.93 L513.57,186.94 L514.05,186.96 L514.53,186.97 L515.01,186.99 L515.49,187.00 L515.97,187.02 L516.44,187.03 L516.92,187.04 L517.40,187.05 L517.88,187.06 L518.36,187.07 L518.84,187.09 L519.31,187.10 L519.79,187.11 L520.27,187.12 L520.75,187.13 L521.23,187.14 L521.71,187.15 L522.18,187.16 L522.66,187.17 L523.14,187.18 L523.62,187.19 L524.10,187.20 L524.57,187.21 L525.05,187.22 L525.53,187.23 L526.01,187.24 L526.49,187.25 L526.97,187.25 L527.44,187.26 L527.92,187.27 L528.40,187.28 L528.88,187.29 L529.36,187.30 L529.84,187.31 L530.31,187.31 L530.79,187.32 L531.27,187.33 L531.75,187.34 L532.23,187.34 L532.71,187.35 L533.18,187.36 L533.66,187.36 L534.14,187.37 L534.62,187.37 L535.10,187.38 L535.58,187.38 L536.05,187.39 L536.53,187.39 L537.01,187.40 L537.49,187.40 L537.97,187.40 L538.45,187.41 L538.92,187.41 L539.40,187.41" stroke="#0000ff"/>
<path d="M383.91,187.85 L383.95,187.85 L384.43,187.85 L384.91,187.85 L385.38,187.85 L385.86,187.85 L386.34,187.85 L386.82,187.85 L387.30,187.92 L387.78,188.28 L388.25,188.90 L388.73,189.70 L389.21,190.60 L389.69,191.55 L390.17,192.46 L390.65,193.26 L391.12,193.91 L391.46,194.34M398.30,202.04 L398.30,202.04 L398.78,202.58 L399.26,203.12 L399.73,203.66 L400.21,204.19 L400.69,204.72 L401.17,205.25 L401.65,205.79 L402.13,206.33 L402.60,206.87 L403.08,207.43 L403.56,207.99 L404.04,208.56 L404.52,209.15 L405.00,209.74 L405.47,210.36 L405.54,210.45M411.41,218.91 L411.69,219.26 L412.17,219.82 L412.65,220.36 L413.13,220.88 L413.61,221.39 L414.08,221.90 L414.56,222.40 L415.04,222.92 L415.52,223.46 L416.00,224.02 L416.47,224.62 L416.95,225.26 L417.43,225.97 L417.91,226.74 L418.37,227.52M423.76,236.26 L424.13,236.62 L424.61,237.06 L425.08,237.50 L425.56,237.92 L426.04,238.32 L426.52,238.69 L427.00,239.00 L427.48,239.25 L427.95,239.42 L428.43,239.51 L428.91,239.51 L429.39,239.49 L429.87,239.46 L430.35,239.42 L430.82,239.37 L431.30,239.31 L431.78,239.24 L432.26,239.16 L432.74,239.08 L433.22,238.98 L433.68,238.80M440.35,230.91 L440.39,230.86 L440.87,230.30 L441.35,229.73 L441.83,229.15 L442.30,228.57 L442.78,227.99 L443.26,227.40 L443.74,226.80 L444.22,226.20 L444.70,225.60 L445.17,224.99 L445.65,224.37 L446.13,223.75 L446.61,223.13 L447.09,222.50 L447.28,222.25M453.31,213.89 L453.31,213.89 L453.78,213.20 L454.26,212.51 L454.74,211.80 L455.22,211.08 L455.70,210.35 L456.18,209.62 L456.65,208.89 L457.13,208.16 L457.61,207.44 L458.09,206.73 L458.57,206.04 L459.05,205.36 L459.52,204.71 L459.53,204.70M465.98,196.68 L466.22,196.40 L466.70,195.81 L467.18,195.21 L467.66,194.61 L468.13,194.02 L468.61,193.47 L469.09,192.97 L469.57,192.53 L470.05,192.17 L470.52,191.87 L471.00,191.59 L471.48,191.34 L471.96,191.12 L472.44,190.90 L472.92,190.70 L473.39,190.50 L473.87,190.30 L474.35,190.10 L474.56,190.02M483.64,186.81 L483.92,186.76 L484.40,186.68 L484.87,186.61 L485.35,186.54 L485.83,186.46 L486.31,186.39 L486.79,186.32 L487.27,186.25 L487.74,186.19 L488.22,186.13 L488.70,186.07 L489.18,186.01 L489.66,185.95 L490.14,185.90 L490.61,185.86 L491.09,185.82 L491.57,185.78 L492.05,185.75 L492.53,185.72 L493.01,185.70 L493.48,185.68 L493.96,185.67 L494.44,185.67 L494.67,185.67M504.96,185.90 L504.96,185.90 L505.44,185.92 L505.92,185.94 L506.40,185.95 L506.88,185.97 L507.36,185.99 L507.83,186.01 L508.31,186.02 L508.79,186.04 L509.27,186.06 L509.75,186.07 L510.23,186.09 L510.70,186.11 L511.18,186.12 L511.66,186.14 L512.14,186.16 L512.62,186.18 L513.10,186.20 L513.57,186.22 L514.05,186.24 L514.53,186.26 L515.01,186.28 L515.49,186.31 L515.97,186.33 L516.06,186.33M526.34,186.88 L526.49,186.88 L526.97,186.91 L527.44,186.93 L527.92,186.95 L528.40,186.97 L528.88,186.99 L529.36,187.01 L529.84,187.03 L530.31,187.04 L530.79,187.06 L531.27,187.08 L531.75,187.09 L532.23,187.10 L532.71,187.12 L533.18,187.13 L533.66,187.14 L534.14,187.14 L534.62,187.15 L535.10,187.16 L535.58,187.16 L536.05,187.17 L536.53,187.17 L537.01,187.18 L537.44,187.18" stroke="#00ff00"/>
</g>
<g font-family="Liberation Sans, sans-serif" font-size="22" fill="#262626" stroke="#262626" stroke-width="0.3">
<text x="384.3" y="289.4" text-anchor="middle">8</text>
<text x="432.1" y="289.4" text-anchor="middle">10</text>
<text x="479.9" y="289.4" text-anchor="middle">12</text>
<text x="527.7" y="289.4" text-anchor="middle">14</text>
<text x="374.7" y="255.7" text-anchor="end">0.65</text>
<text x="374.7" y="233.9" text-anchor="end">0.7</text>
<text x="374.7" y="212.0" text-anchor="end">0.75</text>
<text x="374.7" y="190.2" text-anchor="end">0.8</text>
</g>
<rect x="477.0" y="22.6" width="179.5" height="81.2" fill="#fff" stroke="#262626" stroke-width="1"/>
<g fill="none" stroke-width="2.8">
<line x1="482.7" y1="37.8" x2="538.3" y2="37.8" stroke="#0000ff"/>
<line x1="482.7" y1="63.4" x2="536.6" y2="63.4" stroke="#ff0000" stroke-dasharray="11.1 10.3"/>
<line x1="482.7" y1="89.1" x2="536.6" y2="89.1" stroke="#00ff00" stroke-dasharray="11.1 10.3"/>
</g>
<g font-family="Liberation Serif, serif" font-size="22" fill="#000">
<text transform="translate(543,46.2) scale(1,1.04)">b-control</text>
<text transform="translate(543,71.5) scale(1,1.04)">adrc-control</text>
<text transform="translate(543,97.1) scale(1,1.04)">smc-control</text>
</g>
</svg></body></html>
